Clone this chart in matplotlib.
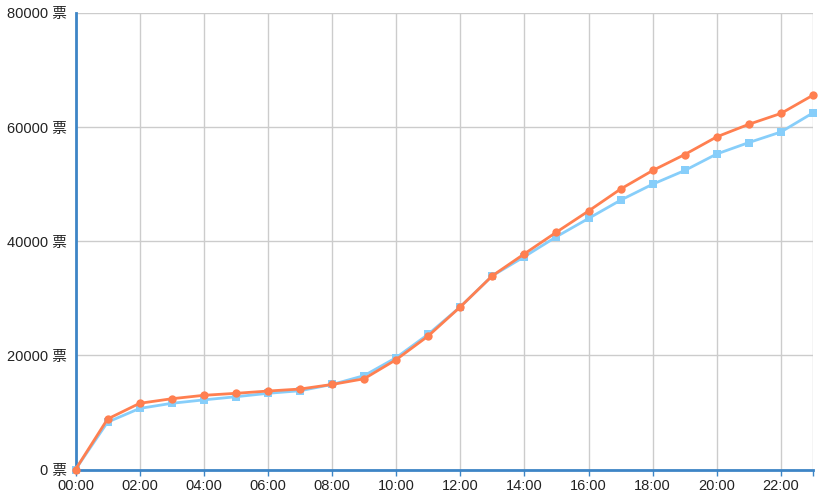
import matplotlib
matplotlib.use('Agg')
from matplotlib import pyplot as plt
import numpy as np

plt.rcParams['font.family'] = ['Liberation Sans', 'Noto Sans CJK SC', 'DejaVu Sans']

hours = list(range(24))
tick_hours = list(range(0, 24, 2))
tick_labels = ['{:02d}:00'.format(h) for h in tick_hours]
y_ticks = [0, 20000, 40000, 60000, 80000]
y_labels = ['{} 票'.format(v) for v in y_ticks]

# orange (circles)
votes_a = [0, 8850, 11600, 12400, 13000, 13350, 13750, 14100, 14900, 15900,
           19250, 23400, 28500, 33950, 37800, 41600, 45300, 49150, 52400,
           55200, 58300, 60500, 62400, 65600]
# light blue (squares)
votes_b = [0, 8300, 10700, 11600, 12200, 12750, 13350, 13800, 14900, 16450,
           19600, 23700, 28500, 33950, 37300, 40800, 44000, 47200, 50000,
           52400, 55300, 57300, 59150, 62500]

fig = plt.figure(figsize=(8.24, 4.99), dpi=100)
ax = fig.add_axes([75.5 / 824, 29.5 / 499, (813 - 75.5) / 824, (469.5 - 13) / 499])

ax.plot(hours, votes_b, color='#87cefa', linewidth=2, marker='s', markersize=6,
        markeredgewidth=0, zorder=3, clip_on=False)
ax.plot(hours, votes_a, color='#ff7f50', linewidth=2, marker='o', markersize=6,
        markeredgewidth=0, zorder=4, clip_on=False)

ax.set_xlim(0, 23)
ax.set_ylim(0, 80000)
ax.set_xticks(tick_hours + [23])
ax.set_xticklabels(tick_labels + [''])
ax.set_yticks(y_ticks)
ax.set_yticklabels(y_labels)
ax.tick_params(axis='x', length=4, width=1, color='#3d85c6', labelsize=10.5, pad=3)
ax.tick_params(axis='y', length=0, labelsize=10.5, pad=6)
for lbl in ax.get_xticklabels() + ax.get_yticklabels():
    lbl.set_color('#222222')

ax.grid(True, color='#cccccc', linewidth=1)
ax.set_axisbelow(True)
for side in ['top', 'right']:
    ax.spines[side].set_visible(False)
ax.spines['left'].set_color('#3d85c6')
ax.spines['left'].set_linewidth(2)
ax.spines['bottom'].set_color('#3d85c6')
ax.spines['bottom'].set_linewidth(2)

fig.savefig('out.png', dpi=100)
